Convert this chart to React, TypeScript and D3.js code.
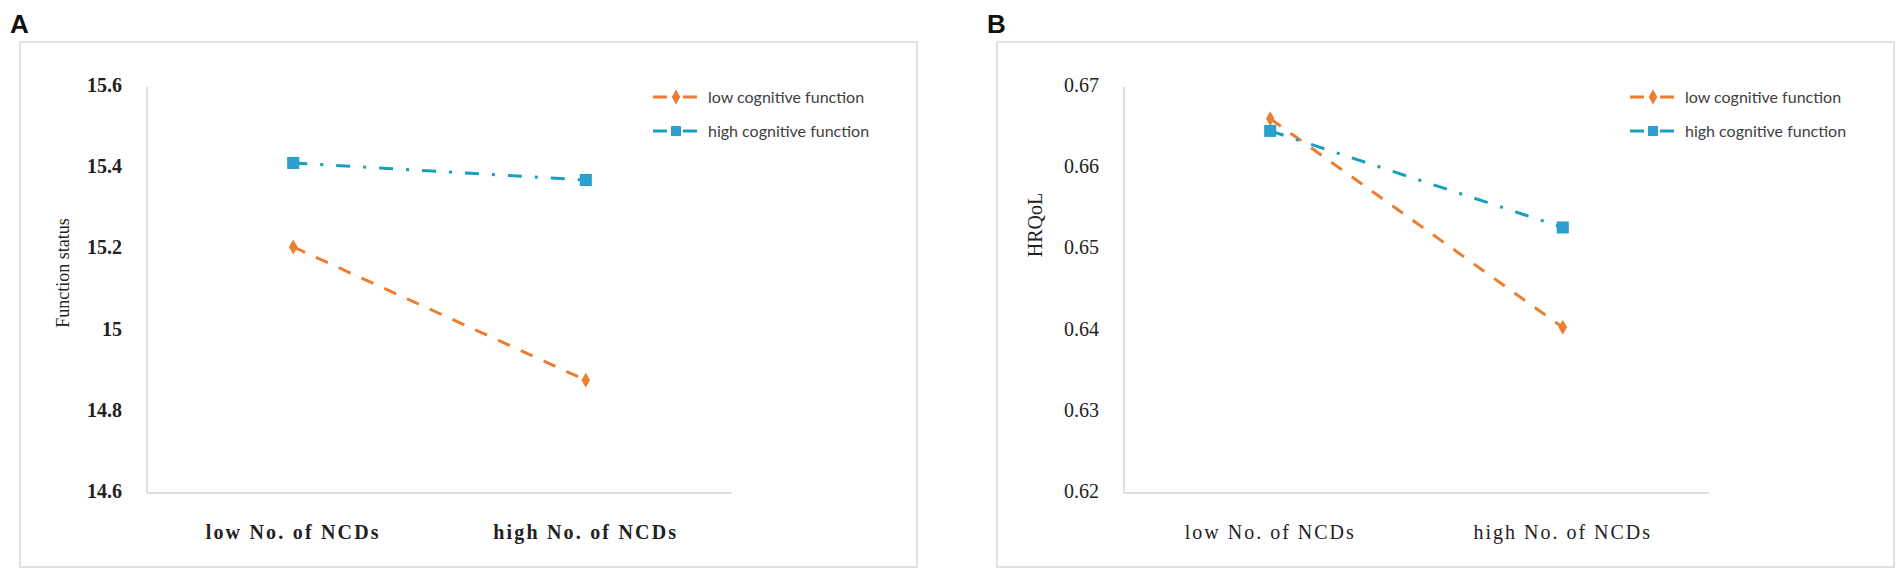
import React from "react";
import * as d3 from "d3";

const categories = ["low No. of NCDs", "high No. of NCDs"];
const seriesNames = ["low cognitive function", "high cognitive function"];

// panel A: function status
const functionLowCog = [15.206, 14.878];
const functionHighCog = [15.413, 15.371];
const functionTicks = [14.6, 14.8, 15, 15.2, 15.4, 15.6];

// panel B: HRQoL
const hrqolLowCog = [0.6661, 0.6404];
const hrqolHighCog = [0.6646, 0.6527];
const hrqolTicks = [0.62, 0.63, 0.64, 0.65, 0.66, 0.67];

const ORANGE = "#ED7D31";
const BLUE_LINE = "#1a9fbf";
const BLUE_MARK = "#2e9fd0";

function Panel({ left, letter, title, low, high, ticks, fmt, boldLabels }) {
  const frame = { x: left, y: 42, w: 897, h: 525 };
  const axisX = left + 127;
  const axisW = 585;
  const x = d3.scaleBand().domain(categories).range([axisX, axisX + axisW]);
  const cx = (c) => x(c) + x.bandwidth() / 2;
  const y = d3
    .scaleLinear()
    .domain([ticks[0], ticks[ticks.length - 1]])
    .range([493, 87]);

  const line = d3
    .line()
    .x((d, i) => cx(categories[i]))
    .y((d) => y(d));

  const diamond = d3.symbol(d3.symbolDiamond, 64)();
  const legendX = left + 633;

  return (
    <g>
      <text
        x={left - 10}
        y={33}
        fontFamily="Liberation Sans, Arial, sans-serif"
        fontWeight="bold"
        fontSize={26}
        fill="#111"
      >
        {letter}
      </text>
      <rect
        x={frame.x}
        y={frame.y}
        width={frame.w}
        height={frame.h}
        fill="#fff"
        stroke="#d9d9d9"
        strokeWidth={1.5}
      />
      {/* axes */}
      <line x1={axisX} x2={axisX} y1={y.range()[1]} y2={y.range()[0]} stroke="#d4d4d4" strokeWidth={1.5} />
      <line x1={axisX} x2={axisX + axisW} y1={y.range()[0]} y2={y.range()[0]} stroke="#d4d4d4" strokeWidth={1.5} />
      {ticks.map((t) => (
        <text
          key={t}
          x={axisX - 25}
          y={y(t) - 2}
          dy="0.35em"
          textAnchor="end"
          fontFamily="Liberation Serif, Times New Roman, serif"
          fontSize={20}
          fontWeight={boldLabels ? "bold" : "normal"}
          fill="#222"
        >
          {fmt(t)}
        </text>
      ))}
      {categories.map((c) => (
        <text
          key={c}
          x={cx(c)}
          y={539}
          textAnchor="middle"
          fontFamily="Liberation Serif, Times New Roman, serif"
          fontSize={20}
          fontWeight={boldLabels ? "bold" : "normal"}
          letterSpacing={boldLabels ? 2.2 : 2}
          fill="#222"
        >
          {c}
        </text>
      ))}
      <text
        transform={`translate(${left + (boldLabels ? 49 : 45)},${boldLabels ? 273 : 225}) rotate(-90)`}
        textAnchor="middle"
        fontFamily="Liberation Serif, Times New Roman, serif"
        fontSize={boldLabels ? 18 : 20}
        fill="#222"
      >
        {title}
      </text>

      {/* series */}
      <path d={line(low)} fill="none" stroke={ORANGE} strokeWidth={3} strokeDasharray="13,12" />
      <path d={line(high)} fill="none" stroke={BLUE_LINE} strokeWidth={3} strokeDasharray="14,13,3,13" />
      {low.map((v, i) => (
        <path key={"o" + i} d={diamond} transform={`translate(${cx(categories[i])},${y(v)})`} fill={ORANGE} />
      ))}
      {high.map((v, i) => (
        <rect
          key={"b" + i}
          x={cx(categories[i]) - 5.5}
          y={y(v) - 5.5}
          width={11}
          height={11}
          fill={BLUE_MARK}
          stroke={BLUE_LINE}
          strokeWidth={1}
        />
      ))}

      {/* legend */}
      {seriesNames.map((s, i) => {
        const ly = 97 + i * 34;
        const col = i === 0 ? ORANGE : BLUE_LINE;
        return (
          <g key={s}>
            <line x1={legendX} x2={legendX + 14} y1={ly} y2={ly} stroke={col} strokeWidth={3} />
            <line x1={legendX + 30} x2={legendX + 44} y1={ly} y2={ly} stroke={col} strokeWidth={3} />
            {i === 0 ? (
              <path d={diamond} transform={`translate(${legendX + 23},${ly})`} fill={ORANGE} />
            ) : (
              <rect x={legendX + 18} y={ly - 5} width={10} height={10} fill={BLUE_MARK} />
            )}
            <text
              x={legendX + 55}
              y={ly}
              dy="0.35em"
              fontFamily="Lato, Open Sans, sans-serif"
              fontSize={16}
              fill="#404040"
            >
              {s}
            </text>
          </g>
        );
      })}
    </g>
  );
}

export default function App() {
  return (
    <svg
      width={1901}
      height={576}
      style={{ position: "absolute", left: 0, top: 0, background: "#fff" }}
    >
      <rect width={1901} height={576} fill="#fff" />
      <Panel
        left={20}
        letter="A"
        title="Function status"
        low={functionLowCog}
        high={functionHighCog}
        ticks={functionTicks}
        fmt={(t) => d3.format("~g")(t)}
        boldLabels={true}
      />
      <Panel
        left={997}
        letter="B"
        title="HRQoL"
        low={hrqolLowCog}
        high={hrqolHighCog}
        ticks={hrqolTicks}
        fmt={(t) => d3.format(".2f")(t)}
        boldLabels={false}
      />
    </svg>
  );
}
